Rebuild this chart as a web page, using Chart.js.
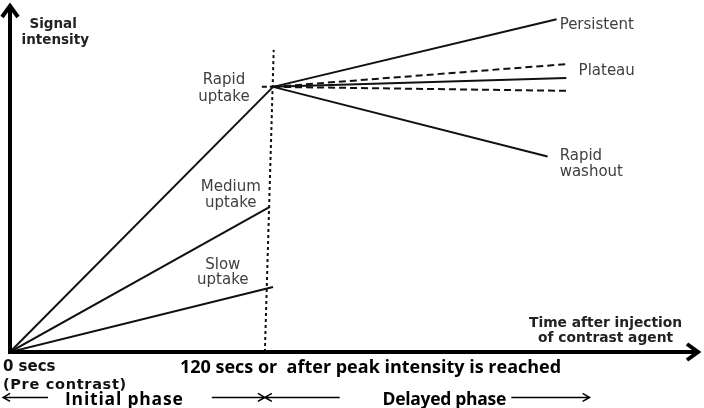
<!DOCTYPE html>
<html lang="en">
<head>
    <meta charset="UTF-8">
    <title>Enhancement curves</title>
    <script src="https://cdn.jsdelivr.net/npm/chart.js"></script>
    <style>
        body { margin: 0; background: #fff; }
        canvas { display: block; }
    </style>
</head>
<body>
    <canvas id="curveChart" width="704" height="408"></canvas>

    <script>
        // time (arbitrary units, 120 = end of initial phase) vs signal intensity (peak ~100)
        const uptakeNames = ['Rapid uptake', 'Medium uptake', 'Slow uptake'];
        const uptakeEndTime = [122, 120.5, 122];
        const uptakeEndSignal = [100.4, 55, 24.6];

        const peakTime = 122;
        const peakSignal = 100.4;

        const delayedNames = ['Persistent', 'Plateau upper', 'Plateau', 'Plateau lower', 'Rapid washout'];
        const delayedEndTime = [253.5, 258, 258, 258, 249.3];
        const delayedEndSignal = [126, 109, 103.8, 98.9, 74];

        // dotted divider between the phases and the short dash left of the peak
        const dividerTime = [118.2, 122.3];
        const dividerSignal = [0, 114.4];
        const peakDashTime = [116.8, 122];

        const xMax = 320;
        const yMax = 131.4;

        const datasets = [];
        uptakeNames.forEach((name, i) => {
            datasets.push({
                label: name,
                data: [{ x: 0, y: 0 }, { x: uptakeEndTime[i], y: uptakeEndSignal[i] }],
                borderColor: '#111',
                borderWidth: 2
            });
        });
        delayedNames.forEach((name, i) => {
            datasets.push({
                label: name,
                data: [{ x: peakTime, y: peakSignal }, { x: delayedEndTime[i], y: delayedEndSignal[i] }],
                borderColor: '#111',
                borderWidth: 2,
                borderDash: name.startsWith('Plateau ') ? [7, 4] : []
            });
        });
        datasets.push({
            label: 'divider',
            data: dividerTime.map((t, i) => ({ x: t, y: dividerSignal[i] })),
            borderColor: '#111',
            borderWidth: 2,
            borderDash: [3, 3]
        });
        datasets.push({
            label: 'peak dash',
            data: peakDashTime.map(t => ({ x: t, y: peakSignal })),
            borderColor: '#111',
            borderWidth: 2,
            borderDash: [5, 3]
        });

        // axes, arrows and all text
        const diagramPlugin = {
            id: 'diagram',
            afterDatasetsDraw(chart) {
                const ctx = chart.ctx;
                const xs = chart.scales.x, ys = chart.scales.y;
                const px = v => xs.getPixelForValue(v);
                const py = v => ys.getPixelForValue(v);
                const ox = px(0), oy = py(0);

                ctx.save();
                ctx.strokeStyle = '#000';
                ctx.lineCap = 'butt';
                ctx.lineJoin = 'miter';

                // axes
                ctx.lineWidth = 4;
                ctx.beginPath();
                ctx.moveTo(ox, oy + 2);
                ctx.lineTo(ox, py(yMax) + 2);
                ctx.moveTo(ox - 2, oy);
                ctx.lineTo(px(xMax) - 2, oy);
                ctx.stroke();

                // arrow heads
                ctx.lineWidth = 4;
                ctx.beginPath();
                ctx.moveTo(ox - 8, py(yMax) + 12);
                ctx.lineTo(ox, py(yMax) + 1);
                ctx.lineTo(ox + 8, py(yMax) + 12);
                ctx.moveTo(px(xMax) - 13, oy - 8);
                ctx.lineTo(px(xMax) - 2, oy);
                ctx.lineTo(px(xMax) - 13, oy + 8);
                ctx.stroke();

                const text = (str, x, y, font, color, align, spacing) => {
                    ctx.font = font;
                    ctx.fillStyle = color;
                    ctx.textAlign = align;
                    ctx.textBaseline = 'middle';
                    ctx.letterSpacing = spacing || '0px';
                    ctx.fillText(str, x, y);
                };

                const lbl = '15px "DejaVu Sans"';
                const grey = '#404040';
                text('Signal', px(20), py(124), 'bold 13.5px "DejaVu Sans"', '#222', 'center');
                text('intensity', px(21), py(118), 'bold 13.5px "DejaVu Sans"', '#222', 'center');

                text('Rapid', px(99.2), py(103), lbl, grey, 'center');
                text('uptake', px(99.2), py(96.6), lbl, grey, 'center');
                text('Medium', px(102.4), py(62.5), lbl, grey, 'center');
                text('uptake', px(102.4), py(56.4), lbl, grey, 'center');
                text('Slow', px(98.7), py(33), lbl, grey, 'center');
                text('uptake', px(98.7), py(27.3), lbl, grey, 'center');

                text('Persistent', px(254.9), py(123.9), lbl, grey, 'left');
                text('Plateau', px(263.7), py(106.4), lbl, grey, 'left');
                text('Rapid', px(254.9), py(74.2), lbl, grey, 'left');
                text('washout', px(254.9), py(68.2), lbl, grey, 'left');

                text('Time after injection', px(276.2), py(11), 'bold 13.8px "DejaVu Sans"', '#222', 'center');
                text('of contrast agent', px(276.2), py(5.3), 'bold 13.8px "DejaVu Sans"', '#222', 'center');

                text('0 secs', px(-3.3), py(-5.9), 'bold 15px "DejaVu Sans"', '#111', 'left');
                text('(Pre contrast)', px(-3.3), py(-12.4), 'bold 14.5px "DejaVu Sans"', '#111', 'left', '0.7px');
                text('120 secs or  after peak intensity is reached', px(78.8), py(-6.1), 'bold 18px "Open Sans"', '#000', 'left');
                text('Initial phase', px(25.5), py(-18.1), 'bold 17.5px "Open Sans"', '#000', 'left', '0.8px');
                text('Delayed phase', px(172.8), py(-18.1), 'bold 17.5px "Open Sans"', '#000', 'left', '-0.3px');

                // phase arrows
                const ay = py(-17.2);
                ctx.lineWidth = 1.5;
                ctx.beginPath();
                ctx.moveTo(px(-3.2), ay);
                ctx.lineTo(px(17.6), ay);
                ctx.moveTo(px(-3.2) + 7, ay - 4);
                ctx.lineTo(px(-3.2), ay);
                ctx.lineTo(px(-3.2) + 7, ay + 4);

                ctx.moveTo(px(93.6), ay);
                ctx.lineTo(px(152.9), ay);
                ctx.moveTo(px(118.2) - 7, ay - 4);
                ctx.lineTo(px(118.2), ay);
                ctx.lineTo(px(118.2) - 7, ay + 4);
                ctx.moveTo(px(118.2) + 7, ay - 4);
                ctx.lineTo(px(118.2), ay);
                ctx.lineTo(px(118.2) + 7, ay + 4);

                ctx.moveTo(px(232.5), ay);
                ctx.lineTo(px(268.8), ay);
                ctx.moveTo(px(268.8) - 7, ay - 4);
                ctx.lineTo(px(268.8), ay);
                ctx.lineTo(px(268.8) - 7, ay + 4);
                ctx.stroke();

                ctx.restore();
            }
        };

        new Chart(document.getElementById('curveChart'), {
            type: 'scatter',
            data: { datasets: datasets },
            options: {
                responsive: false,
                animation: false,
                showLine: true,
                elements: { point: { radius: 0 }, line: { tension: 0 } },
                layout: { padding: { left: 10, right: 4, top: 5, bottom: 56 } },
                plugins: {
                    legend: { display: false },
                    tooltip: { enabled: false }
                },
                scales: {
                    x: { type: 'linear', min: 0, max: xMax, display: false },
                    y: { type: 'linear', min: 0, max: yMax, display: false }
                }
            },
            plugins: [diagramPlugin]
        });
    </script>
</body>
</html>
